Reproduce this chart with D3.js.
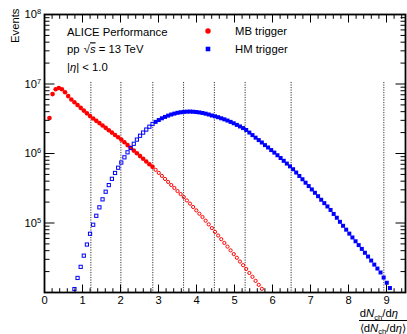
<!DOCTYPE html>
<html>
<head>
<meta charset="utf-8">
<script src="https://cdn.jsdelivr.net/npm/d3@7"></script>
<style>
  body { margin: 0; background: #fff; }
  svg { font-family: "Liberation Sans", Arial, Helvetica, sans-serif; }
  .tick-label { font-size: 11.2px; fill: #000; }
  .note { font-size: 11.3px; fill: #000; }
</style>
</head>
<body>
<svg id="chart" width="407" height="334"></svg>
<script>
// uniform multiplicity bins, (dNch/deta)/<dNch/deta>
const binStart = 0.13;
const binWidth = 0.0822;

// MB trigger, one value per bin starting at bin 0
const mbEvents = [
  3.24e6, 7.16e6, 8.41e6, 8.77e6, 8.41e6, 7.59e6, 6.70e6, 5.98e6, 5.46e6, 4.98e6,
  4.54e6, 4.14e6, 3.78e6, 3.45e6, 3.19e6, 2.95e6, 2.74e6, 2.53e6, 2.34e6, 2.16e6,
  2.00e6, 1.85e6, 1.71e6, 1.585e6, 1.45e6, 1.32e6, 1.21e6, 1.10e6, 1.007e6, 9.18e5,
  8.39e5, 7.66e5, 7.00e5, 6.43e5, 5.82e5, 5.26e5, 4.76e5, 4.31e5, 3.90e5, 3.52e5,
  3.19e5, 2.88e5, 2.61e5, 2.36e5, 2.11e5, 1.90e5, 1.70e5, 1.52e5, 1.36e5, 1.22e5,
  1.08e5, 9.55e4, 8.45e4, 7.46e4, 6.61e4, 5.85e4, 5.16e4, 4.57e4, 4.04e4, 3.57e4,
  3.16e4, 2.79e4, 2.47e4, 2.18e4, 1.91e4, 1.68e4, 1.47e4, 1.29e4, 1.13e4
];

// HM trigger, first filled bin is bin 8
const hmFirstBin = 8;
const hmEvents = [
  1.12e4, 1.62e4, 2.34e4, 3.39e4, 4.90e4, 7.00e4, 9.44e4, 1.27e5, 1.68e5, 2.19e5,
  2.82e5, 3.51e5, 4.32e5, 5.25e5, 6.24e5, 7.41e5, 8.81e5, 1.04e6, 1.20e6, 1.38e6,
  1.585e6, 1.80e6, 2.00e6, 2.21e6, 2.43e6, 2.66e6, 2.85e6, 3.03e6, 3.21e6, 3.36e6,
  3.51e6, 3.64e6, 3.75e6, 3.85e6, 3.92e6, 3.97e6, 4.00e6, 4.01e6, 3.99e6, 3.95e6,
  3.90e6, 3.83e6, 3.74e6, 3.64e6, 3.52e6, 3.43e6, 3.33e6, 3.21e6, 3.10e6, 2.98e6,
  2.85e6, 2.72e6, 2.58e6, 2.45e6, 2.32e6, 2.18e6, 2.00e6, 1.84e6, 1.69e6, 1.56e6,
  1.44e6, 1.32e6, 1.22e6, 1.12e6, 1.03e6, 9.44e5, 8.61e5, 7.85e5, 7.16e5, 6.53e5,
  5.94e5, 5.32e5, 4.75e5, 4.26e5, 3.80e5, 3.40e5, 3.04e5, 2.72e5, 2.43e5, 2.16e5,
  1.93e5, 1.73e5, 1.54e5, 1.35e5, 1.19e5, 1.04e5, 9.12e4, 8.02e4, 7.03e4, 6.19e4,
  5.46e4, 4.81e4, 4.24e4, 3.73e4, 3.29e4, 2.88e4, 2.52e4, 2.21e4, 1.94e4, 1.64e4,
  1.38e4, 1.16e4
];

// multiplicity class boundaries (dotted lines)
const classEdges = [1.22, 2.01, 2.85, 3.66, 4.47, 5.28, 6.49, 8.93];
const edgeTop = 1.07e7;
// MB drawn filled below this, HM drawn filled above it
const markerSwitch = 2.85;

const xTickValues = [0, 1, 2, 3, 4, 5, 6, 7, 8, 9];
const yLabelExponents = [5, 6, 7, 8];
const infoLines = ["ALICE Performance", "pp", "|η| < 1.0"];
const legendLabels = ["MB trigger", "HM trigger"];

const svg = d3.select("#chart");
const frame = { left: 44.5, right: 405.5, top: 14.5, bottom: 292.5 };

const x = d3.scaleLinear().domain([0, 9.5]).range([frame.left, frame.right]);
const y = d3.scaleLog().domain([1e4, 1e8]).range([frame.bottom, frame.top]);

const mb = mbEvents.map((v, i) => ({ x: binStart + i * binWidth, v: v }));
const hm = hmEvents.map((v, i) => ({ x: binStart + (i + hmFirstBin) * binWidth, v: v }));

// dotted class lines
svg.append("g")
    .selectAll("line")
    .data(classEdges)
    .enter()
    .append("line")
    .attr("x1", (d) => x(d))
    .attr("x2", (d) => x(d))
    .attr("y1", y(edgeTop))
    .attr("y2", frame.bottom)
    .attr("stroke", "#333")
    .attr("stroke-width", 1)
    .attr("stroke-dasharray", "1.2,1.3");

// MB markers
const gMb = svg.append("g");
gMb.selectAll(".mb-full")
    .data(mb.filter((d) => d.x < markerSwitch))
    .enter()
    .append("circle")
    .attr("cx", (d) => x(d.x))
    .attr("cy", (d) => y(d.v))
    .attr("r", 2.3)
    .attr("fill", "#ff0000");
gMb.selectAll(".mb-open")
    .data(mb.filter((d) => d.x >= markerSwitch))
    .enter()
    .append("circle")
    .attr("cx", (d) => x(d.x))
    .attr("cy", (d) => y(d.v))
    .attr("r", 1.6)
    .attr("fill", "none")
    .attr("stroke", "#ff0000")
    .attr("stroke-width", 1);

// HM markers
const gHm = svg.append("g");
gHm.selectAll(".hm-open")
    .data(hm.filter((d) => d.x < markerSwitch))
    .enter()
    .append("rect")
    .attr("x", (d) => x(d.x) - 1.6)
    .attr("y", (d) => y(d.v) - 1.6)
    .attr("width", 3.2)
    .attr("height", 3.2)
    .attr("fill", "none")
    .attr("stroke", "#0000ff")
    .attr("stroke-width", 1);
gHm.selectAll(".hm-full")
    .data(hm.filter((d) => d.x >= markerSwitch))
    .enter()
    .append("rect")
    .attr("x", (d) => x(d.x) - 2)
    .attr("y", (d) => y(d.v) - 2)
    .attr("width", 4)
    .attr("height", 4)
    .attr("fill", "#0000ff");

// frame
svg.append("rect")
    .attr("x", frame.left)
    .attr("y", frame.top)
    .attr("width", frame.right - frame.left)
    .attr("height", frame.bottom - frame.top)
    .attr("fill", "none")
    .attr("stroke", "#000")
    .attr("stroke-width", 1.8);

// x ticks, bottom and top, drawn inward
const xMinor = d3.range(0, 9.5001, 0.2).filter((v) => Math.abs(v - Math.round(v)) > 1e-6);
const gx = svg.append("g").attr("stroke", "#000").attr("stroke-width", 1);
[[xTickValues, 8], [xMinor, 4.3]].forEach(([vals, len]) => {
    vals.forEach((v) => {
        gx.append("line").attr("x1", x(v)).attr("x2", x(v)).attr("y1", frame.bottom).attr("y2", frame.bottom - len);
        gx.append("line").attr("x1", x(v)).attr("x2", x(v)).attr("y1", frame.top).attr("y2", frame.top + len);
    });
});
svg.append("g")
    .selectAll("text")
    .data(xTickValues)
    .enter()
    .append("text")
    .attr("class", "tick-label")
    .attr("x", (d) => x(d))
    .attr("y", 304)
    .attr("text-anchor", "middle")
    .text((d) => d);

// y ticks, log decades with minors
const gy = svg.append("g").attr("stroke", "#000").attr("stroke-width", 1);
for (let e = 4; e < 8; e++) {
    for (let m = 1; m < 10; m++) {
        const v = m * Math.pow(10, e);
        const len = m === 1 ? 10 : 5;
        gy.append("line").attr("x1", frame.left).attr("x2", frame.left + len).attr("y1", y(v)).attr("y2", y(v));
        gy.append("line").attr("x1", frame.right).attr("x2", frame.right - len).attr("y1", y(v)).attr("y2", y(v));
    }
}
const yLab = svg.append("g")
    .selectAll("text")
    .data(yLabelExponents)
    .enter()
    .append("text")
    .attr("class", "tick-label")
    .attr("x", 41)
    .attr("y", (d) => y(Math.pow(10, d)) + 3.7)
    .attr("text-anchor", "end");
yLab.append("tspan").text("10");
yLab.append("tspan").attr("dy", -4.2).attr("font-size", "7.4px").text((d) => d);

// y title
svg.append("text")
    .attr("class", "note")
    .attr("transform", "translate(18.5,8.5) rotate(-90)")
    .attr("text-anchor", "end")
    .text("Events");

// x title as a fraction
const num = svg.append("text").attr("class", "note").attr("x", 398).attr("y", 317).attr("text-anchor", "end");
num.append("tspan").text("d");
num.append("tspan").attr("font-style", "italic").text("N");
num.append("tspan").attr("font-size", "7.6px").attr("dy", 2.6).text("ch");
num.append("tspan").attr("dy", -2.6).text("/d");
num.append("tspan").attr("font-style", "italic").text("η");
svg.append("line")
    .attr("x1", 359).attr("x2", 407).attr("y1", 320.5).attr("y2", 320.5)
    .attr("stroke", "#000").attr("stroke-width", 1);
const den = svg.append("text").attr("class", "note").attr("x", 406).attr("y", 332).attr("text-anchor", "end");
den.append("tspan").text("⟨d");
den.append("tspan").attr("font-style", "italic").text("N");
den.append("tspan").attr("font-size", "7.6px").attr("dy", 2.4).text("ch");
den.append("tspan").attr("dy", -2.4).text("/d");
den.append("tspan").attr("font-style", "italic").text("η");
den.append("tspan").text("⟩");

// info text
svg.append("text").attr("class", "note").attr("x", 67).attr("y", 36).text(infoLines[0]);
const pp = svg.append("text").attr("class", "note").attr("x", 67).attr("y", 53.3);
pp.append("tspan").text(infoLines[1] + " ");
pp.append("tspan").attr("dx", 1).text("√");
pp.append("tspan").attr("font-style", "italic").style("text-decoration", "overline").text("s");
pp.append("tspan").text(" = 13 TeV");
const eta = svg.append("text").attr("class", "note").attr("x", 67).attr("y", 71);
eta.append("tspan").text("|");
eta.append("tspan").attr("font-style", "italic").text("η");
eta.append("tspan").text(infoLines[2].slice(2));

// legend
svg.append("circle").attr("cx", 208).attr("cy", 31).attr("r", 2.7).attr("fill", "#ff0000");
svg.append("rect").attr("x", 205.7).attr("y", 46.7).attr("width", 4.6).attr("height", 4.6).attr("fill", "#0000ff");
svg.append("g")
    .selectAll("text")
    .data(legendLabels)
    .enter()
    .append("text")
    .attr("class", "note")
    .attr("x", 235)
    .attr("y", (d, i) => 35.3 + i * 18)
    .text((d) => d);
</script>
</body>
</html>
